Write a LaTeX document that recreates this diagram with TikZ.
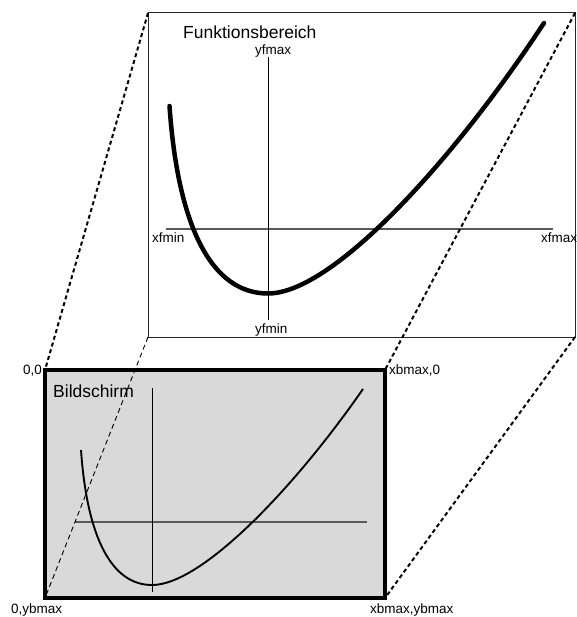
\documentclass[tikz,border=0pt]{standalone}
\usepackage{fontspec}
\setmainfont{Liberation Sans}
\begin{document}
\begin{tikzpicture}[x=1pt,y=-1pt,
  biglabel/.style={inner sep=0pt,font=\fontsize{17.5}{20}\selectfont},
  smalllabel/.style={inner sep=0pt,font=\fontsize{13.5}{16}\selectfont},
  framebox/.style={draw=black!85,line width=1pt},
  screenbox/.style={draw=black,fill=black!15,line width=4pt},
  xaxis/.style={draw=black!65,line width=1.1pt},
  yaxis/.style={draw=black,line width=0.9pt},
  thickdash/.style={draw=black,line width=2pt,dash pattern=on 4pt off 3pt},
  thindash/.style={draw=black,line width=0.9pt,dash pattern=on 5pt off 3.5pt},
  bigcurve/.style={draw=black,line width=4.5pt,line cap=round},
  smallcurve/.style={draw=black,line width=1.9pt}]
\useasboundingbox (0,0) rectangle (576,617);
% corners
\coordinate (ftl) at (148,13);
\coordinate (ftr) at (575,13);
\coordinate (fbl) at (148,337);
\coordinate (fbr) at (575,337);
\coordinate (stl) at (45,370);
\coordinate (str) at (385,370);
\coordinate (sbl) at (45,598);
\coordinate (sbr) at (385,598);
% function area
\draw[framebox] (ftl) rectangle (fbr);
\coordinate (fxa) at (166,229);
\coordinate (fxb) at (553,229);
\coordinate (fya) at (268,57);
\coordinate (fyb) at (268,320);
\draw[xaxis] (fxa) -- (fxb);
\draw[yaxis] (fya) -- (fyb);
\coordinate (fs) at (169.5,106);
\coordinate (fm) at (268,293.5);
\coordinate (fe) at (544,23);
\draw[bigcurve] (fs) .. controls (178,228) and (212,293.5) .. (fm)
  .. controls (333,293.5) and (454,159.8) .. (fe);
% projection lines
\draw[thickdash] (ftl) -- (stl);
\draw[thickdash] (ftr) -- (str);
\draw[thickdash] (fbr) -- (sbr);
% screen
\draw[screenbox] (stl) rectangle (sbr);
\coordinate (sxa) at (75,522);
\coordinate (sxb) at (367,522);
\coordinate (sya) at (152,388);
\coordinate (syb) at (152,592);
\draw[xaxis] (sxa) -- (sxb);
\draw[yaxis] (sya) -- (syb);
\coordinate (ss) at (81,450);
\coordinate (sm) at (152,585);
\coordinate (se) at (363,389);
\draw[smallcurve] (ss) .. controls (87.1,537.8) and (111.7,585) .. (sm)
  .. controls (201.7,585) and (294.2,488.2) .. (se);
\draw[thindash] (fbl) -- (sbl);
% labels
\node[biglabel,anchor=base west] (tfb) at (183,39) {Funktionsbereich};
\node[smalllabel,anchor=base west] (tyfmax) at (255,55) {yfmax};
\node[smalllabel,anchor=base west] (tyfmin) at (255,333) {yfmin};
\node[smalllabel,anchor=base west] (txfmin) at (152,243) {xfmin};
\node[smalllabel,anchor=base west] (txfmax) at (541,243) {xfmax};
\node[biglabel,anchor=base west] (tbs) at (53,397) {Bildschirm};
\node[smalllabel,anchor=base east] (t00) at (42,374) {0,0};
\node[smalllabel,anchor=base west] (txb0) at (389,374) {xbmax,0};
\node[smalllabel,anchor=base west] (t0yb) at (11,613) {0,ybmax};
\node[smalllabel,anchor=base west] (txbyb) at (370,613) {xbmax,ybmax};
\end{tikzpicture}
\end{document}
